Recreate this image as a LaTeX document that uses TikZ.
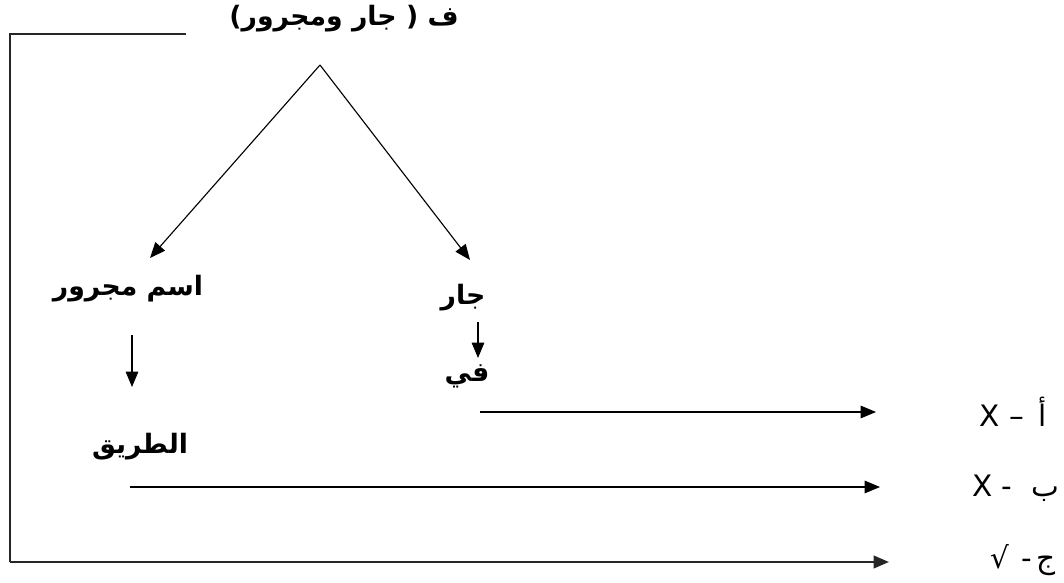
\documentclass[tikz,border=0pt]{standalone}
\usepackage{fontspec}
\usetikzlibrary{arrows.meta}
\TeXXeTstate=1
\newfontfamily\arabicfont[Script=Arabic]{DejaVu Sans}
\begin{document}
\begin{tikzpicture}[x=0.025cm,y=-0.025cm,
  lbl/.style={font=\arabicfont\bfseries\fontsize{19}{22}\selectfont, inner sep=0pt},
  side/.style={font=\arabicfont\fontsize{21}{24}\selectfont, inner sep=0pt},
  arr/.style={-{Triangle[length=11pt,width=9pt]}, line width=0.8pt},
  frameline/.style={line width=1.6pt, draw=black!85}]
\useasboundingbox (0,0) rectangle (1064,583);
% texts
\node[lbl] (title) at (344,19) {\beginR ف ( جار ومجرور)\endR};
\node[lbl] (ism) at (128,289) {\beginR اسم مجرور\endR};
\node[lbl] (jar) at (463,298) {\beginR جار\endR};
\node[lbl] (fi) at (467,376) {\beginR في\endR};
\node[lbl] (tariq) at (140,447) {\beginR الطريق\endR};
\node[side] (a) at (1013,412) {\beginR أ\hspace{10.5pt}–\hspace{7pt}\beginL X\endL\endR};
\node[side] (b) at (1016,488) {\beginR ب\hspace{14pt}-\hspace{6.5pt}\beginL X\endL\endR};
\node[side] (c) at (1023,560) {\beginR ج\hspace{3pt}-\hspace{9pt}√\endR};
% coordinates
\coordinate (apex) at (320,65);
\coordinate (ltip) at (150,258);
\coordinate (rtip) at (470,260);
\coordinate (jfs) at (478,322);
\coordinate (jfe) at (478,358);
\coordinate (its) at (132,335);
\coordinate (ite) at (132,387);
\coordinate (frameTopEnd) at (186,34);
\coordinate (frameCorner) at (10,34);
\coordinate (frameBottom) at (10,562);
\coordinate (r1s) at (480,412);
\coordinate (r1e) at (876,412);
\coordinate (r2s) at (130,487);
\coordinate (r2e) at (880,487);
\coordinate (r3e) at (889,562);
% connectors
\draw[arr] (apex) -- (ltip);
\draw[arr] (apex) -- (rtip);
\draw[arr] (jfs) -- (jfe);
\draw[arr] (its) -- (ite);
\draw[arr] (r1s) -- (r1e);
\draw[arr] (r2s) -- (r2e);
\draw[frameline] (frameTopEnd) -- (frameCorner) -- (frameBottom);
\draw[arr, line width=1.6pt, draw=black!85, fill=black] (frameBottom) -- (r3e);
\end{tikzpicture}
\end{document}
